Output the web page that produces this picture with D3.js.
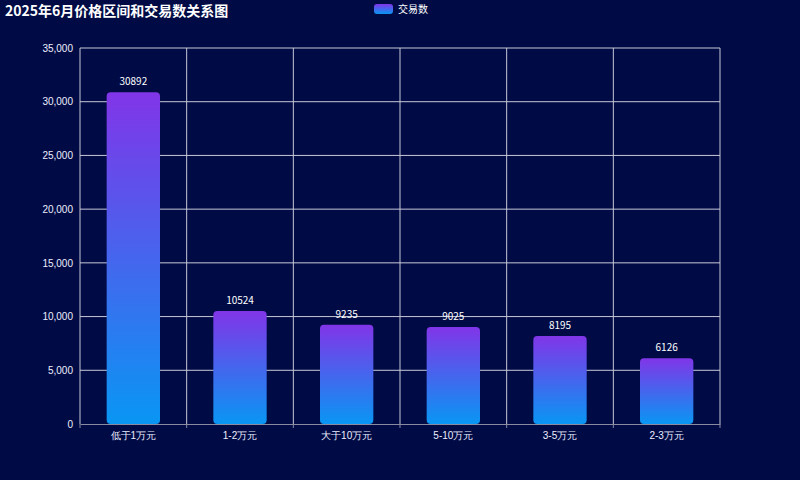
<!DOCTYPE html>
<html>
<head>
<meta charset="utf-8">
<script src="https://cdn.jsdelivr.net/npm/d3@7/dist/d3.min.js"></script>
<style>
  html, body { margin: 0; padding: 0; background: #000b45; }
  svg { display: block; font-family: "Noto Sans CJK SC", "Noto Sans", sans-serif; }
</style>
</head>
<body>
<div id="chart"></div>
<script>
// Data
const categories = ["低于1万元", "1-2万元", "大于10万元", "5-10万元", "3-5万元", "2-3万元"];
const tradeCounts = [30892, 10524, 9235, 9025, 8195, 6126];
const yTicks = [0, 5000, 10000, 15000, 20000, 25000, 30000, 35000];

const width = 800;
const height = 480;
const margin = { top: 48, right: 80, bottom: 56, left: 80 };

const svg = d3.select("#chart").append("svg")
    .attr("width", width)
    .attr("height", height);

svg.append("rect").attr("width", width).attr("height", height).attr("fill", "#000b45");

// Bar gradient (top purple -> bottom blue)
const defs = svg.append("defs");
const grad = defs.append("linearGradient")
    .attr("id", "barGrad")
    .attr("x1", 0).attr("y1", 0).attr("x2", 0).attr("y2", 1);
grad.append("stop").attr("offset", "0%").attr("stop-color", "#8135e8");
grad.append("stop").attr("offset", "100%").attr("stop-color", "#0996f3");

// Scales
const xScale = d3.scaleBand()
    .domain(categories)
    .range([margin.left, width - margin.right]);

const yScale = d3.scaleLinear()
    .domain([0, 35000])
    .range([height - margin.bottom, margin.top]);

// Horizontal grid
svg.append("g")
    .selectAll("line")
    .data(yTicks.slice(1))
    .join("line")
    .attr("x1", margin.left)
    .attr("x2", width - margin.right)
    .attr("y1", d => yScale(d))
    .attr("y2", d => yScale(d))
    .attr("stroke", "#c8c8d8")
    .attr("stroke-width", 1);

// Vertical grid at band boundaries
const bounds = categories.map(c => xScale(c)).concat([width - margin.right]);
svg.append("g")
    .selectAll("line")
    .data(bounds)
    .join("line")
    .attr("x1", d => d)
    .attr("x2", d => d)
    .attr("y1", margin.top)
    .attr("y2", height - margin.bottom)
    .attr("stroke", "#c8c8d8")
    .attr("stroke-width", 1);

// Y axis labels
const yAxis = svg.append("g")
    .attr("transform", `translate(${margin.left}, 0)`)
    .call(d3.axisLeft(yScale).tickValues(yTicks).tickSize(0).tickPadding(7).tickFormat(d3.format(",")));
yAxis.select(".domain").remove();
yAxis.selectAll("text").attr("fill", "#eef").style("font-size", "10px");

// Bars
const barW = xScale.bandwidth() * 0.5;
svg.append("g")
    .selectAll("rect")
    .data(tradeCounts)
    .join("rect")
    .attr("x", (d, i) => xScale(categories[i]) + (xScale.bandwidth() - barW) / 2)
    .attr("y", d => yScale(d))
    .attr("width", barW)
    .attr("height", d => yScale(0) - yScale(d))
    .attr("rx", 4)
    .attr("fill", "url(#barGrad)");

// Value labels
svg.append("g")
    .selectAll("text")
    .data(tradeCounts)
    .join("text")
    .attr("x", (d, i) => xScale(categories[i]) + xScale.bandwidth() / 2)
    .attr("y", d => yScale(d) - 7)
    .attr("text-anchor", "middle")
    .attr("fill", "#fff")
    .style("font-size", "10px")
    .text(d => d);

// X axis
const xAxis = svg.append("g")
    .attr("transform", `translate(0, ${height - margin.bottom})`)
    .call(d3.axisBottom(xScale).tickSize(0).tickPadding(8));
xAxis.select(".domain").attr("stroke", "#8a8aa0");
xAxis.selectAll("text").attr("fill", "#eef").style("font-size", "10px");
xAxis.append("g")
    .selectAll("line")
    .data(bounds)
    .join("line")
    .attr("x1", d => d)
    .attr("x2", d => d)
    .attr("y1", 0)
    .attr("y2", 4)
    .attr("stroke", "#8a8aa0");

// Title
svg.append("text")
    .attr("x", 5)
    .attr("y", 16)
    .attr("fill", "#fff")
    .style("font-size", "14px")
    .style("font-weight", "bold")
    .text("2025年6月价格区间和交易数关系图");

// Legend
const legend = svg.append("g").attr("transform", "translate(374, 4)");
legend.append("rect")
    .attr("width", 19).attr("height", 10).attr("rx", 3)
    .attr("fill", "url(#barGrad)");
legend.append("text")
    .attr("x", 24).attr("y", 9)
    .attr("fill", "#fff")
    .style("font-size", "10px")
    .text("交易数");
</script>
</body>
</html>
